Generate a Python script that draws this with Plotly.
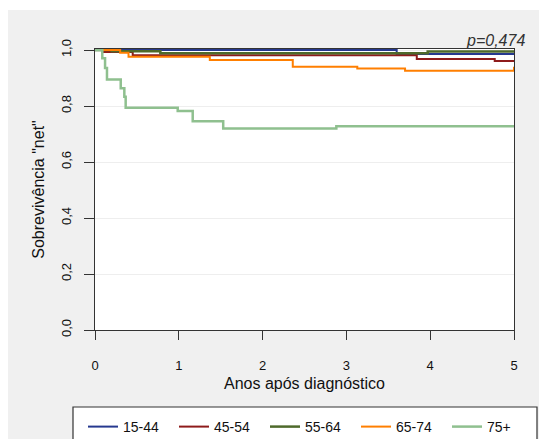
import plotly.graph_objects as go

# ---- data ----
groups = ["15-44", "45-54", "55-64", "65-74", "75+"]
t_1544 = [0, 3.6, 5.0]
s_1544 = [1.0, 0.986, 0.986]
t_4554 = [0, 0.1, 0.45, 3.84, 4.77, 5.0]
s_4554 = [1.0, 0.993, 0.981, 0.968, 0.961, 0.961]
t_5564 = [0, 0.2, 0.78, 3.97, 5.0]
s_5564 = [1.0, 0.996, 0.988, 0.995, 0.995]
t_6574 = [0, 0.3, 0.4, 1.37, 2.36, 3.13, 3.70, 5.0]
s_6574 = [1.0, 0.99, 0.976, 0.964, 0.94, 0.934, 0.926, 0.94]
t_75 = [0, 0.087, 0.12, 0.143, 0.307, 0.35, 0.366, 0.987, 1.166, 1.53, 2.88, 5.0]
s_75 = [1.0, 0.971, 0.936, 0.895, 0.863, 0.833, 0.794, 0.782, 0.746, 0.72, 0.728, 0.728]

x_ticks = [0, 1, 2, 3, 4, 5]
x_ticktext = ["0", "1", "2", "3", "4", "5"]
y_ticks = [0.0, 0.2, 0.4, 0.6, 0.8, 1.0]
y_ticktext = ["0,0", "0,2", "0,4", "0,6", "0,8", "1,0"]
p_text = "p=0,474"

colors = ["#26398f", "#8e1b1b", "#4e6a2b", "#ff7f00", "#8fc08f"]
widths = [2, 2, 2.5, 2, 2.5]
series = [(t_1544, s_1544), (t_4554, s_4554), (t_5564, s_5564), (t_6574, s_6574), (t_75, s_75)]

FONT = "Liberation Sans, Arial, sans-serif"

fig = go.Figure()
for name, (tx, sy), c, w in zip(groups, series, colors, widths):
    fig.add_trace(go.Scatter(x=tx, y=sy, mode="lines", name=name,
                             line=dict(color=c, width=w, shape="hv")))

OFF = 8  # page body margin
W, H = 547 - OFF, 439 - OFF
L, R, T, B = 95 - OFF, 33, 49 - OFF, 109
pw, ph = W - L - R, H - T - B

def px_x(p):  # page pixel -> paper x
    return (p - OFF - L) / pw

def px_y(p):  # page pixel -> paper y
    return (H - B - (p - OFF)) / ph

fig.update_layout(
    width=W, height=H,
    margin=dict(l=L, r=R, t=T, b=B, autoexpand=False),
    paper_bgcolor="#f0f0f0",
    plot_bgcolor="white",
    font=dict(family=FONT, size=13, color="#111"),
    showlegend=True,
    legend=dict(orientation="h", x=px_x(83), y=px_y(411), xanchor="left", yanchor="top",
                bgcolor="rgba(0,0,0,0)", borderwidth=0,
                font=dict(size=14, family=FONT, color="#111"),
                entrywidth=46, entrywidthmode="pixels", traceorder="normal"),
    shapes=[
        dict(type="rect", xref="paper", yref="paper", x0=px_x(0), x1=px_x(W + 20), y0=px_y(10), y1=px_y(0),
             fillcolor="white", line=dict(width=0), layer="below"),
        dict(type="rect", xref="paper", yref="paper", x0=px_x(73), x1=px_x(537), y0=px_y(460), y1=px_y(407),
             fillcolor="white", line=dict(width=1.2, color="#333"), layer="below"),
    ],
    annotations=[dict(text="<i>" + p_text + "</i>", xref="paper", yref="paper",
                      x=px_x(527), y=px_y(40), xanchor="right", yanchor="middle",
                      showarrow=False, font=dict(size=16, family=FONT, color="#333"))],
)

fig.update_xaxes(range=[0, 5], tickvals=x_ticks, ticktext=x_ticktext, automargin=False,
                 showline=True, linecolor="#333", linewidth=1, mirror=True,
                 ticks="outside", ticklen=9, tickcolor="#333", tickwidth=1,
                 showgrid=False, zeroline=False, ticklabelstandoff=14,
                 tickfont=dict(size=13, family=FONT, color="#111"),
                 title=dict(text="Anos após diagnóstico", font=dict(size=16, family=FONT, color="#111"), standoff=6))
fig.update_yaxes(range=[0, 1.0036], tickvals=y_ticks, ticktext=y_ticktext, tickangle=-90, automargin=False,
                 showline=True, linecolor="#333", linewidth=1, mirror=True,
                 ticks="outside", ticklen=10, tickcolor="#333", tickwidth=1,
                 showgrid=True, gridcolor="#eeeeee", gridwidth=1, zeroline=False,
                 ticklabelstandoff=8,
                 tickfont=dict(size=13, family=FONT, color="#111"),
                 title=dict(text='Sobrevivência "net"', font=dict(size=16, family=FONT, color="#111"), standoff=10))

fig.write_html("out.html")
